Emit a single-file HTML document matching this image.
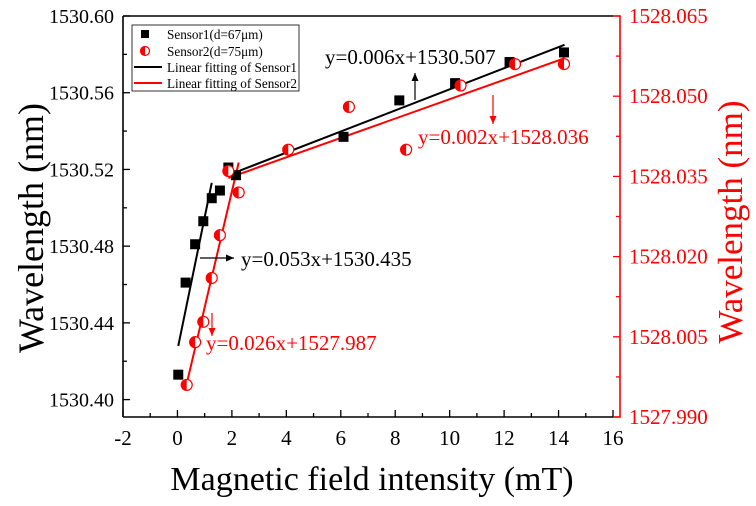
<!DOCTYPE html>
<html><head><meta charset="utf-8"><style>
html,body{margin:0;padding:0;background:#fff;}
svg{display:block;font-family:"Liberation Serif",serif;}
</style></head><body>
<svg id="chart" width="756" height="506" viewBox="0 0 756 506"></svg>
<script>
const xTicks=[-2,0,2,4,6,8,10,12,14,16];
const yLeftTicks=[1530.40,1530.44,1530.48,1530.52,1530.56,1530.60];
const yRightTicks=[1527.990,1528.005,1528.020,1528.035,1528.050,1528.065];
const s1x=[0.03,0.3,0.65,0.95,1.26,1.56,1.87,2.15,6.1,8.15,10.2,12.2,14.2];
const s1y=[1530.413,1530.461,1530.481,1530.493,1530.505,1530.509,1530.521,1530.517,1530.537,1530.556,1530.565,1530.576,1530.581];
const s2x=[0.34,0.65,0.95,1.26,1.56,1.87,2.25,4.07,6.3,8.4,10.4,12.4,14.2];
const s2y=[1527.996,1528.004,1528.0078,1528.016,1528.024,1528.036,1528.032,1528.040,1528.048,1528.040,1528.052,1528.056,1528.056];
const fit1aX=[0.03,1.26], fit1aY=[1530.428,1530.513];
const fit1bX=[2.04,14.22], fit1bY=[1530.518,1530.585];
const fit2aX=[0.33,2.25], fit2aY=[1527.996,1528.0376];
const fit2bX=[1.87,14.22], fit2bY=[1528.0347,1528.0571];

const L=123,R=613,RA=620,T=16,B=417;
const X=v=>L+(v+2)/18*(R-L);
const YL=v=>T+(1530.60-v)/0.20*(399.6-T);
const YR=v=>T+(1528.065-v)/0.075*(B-T);
const svg=document.getElementById('chart');
const NS='http://www.w3.org/2000/svg';
function mk(tag,attrs,parent){const e=document.createElementNS(NS,tag);for(const k in attrs)e.setAttribute(k,attrs[k]);(parent||svg).appendChild(e);return e;}
function txt(s,attrs){const e=mk('text',attrs);e.textContent=s;return e;}

let e;
e=mk('line',{x1:L,y1:T,x2:R,y2:T,stroke:'#000','stroke-width':1.6});


e=mk('line',{x1:L,y1:T,x2:L,y2:B,stroke:'#000','stroke-width':1.6});


e=mk('line',{x1:L,y1:B,x2:R,y2:B,stroke:'#000','stroke-width':1.6});


e=mk('polyline',{points:`${R},${T} ${RA},${T} ${RA},${B} ${R},${B}`,fill:'none',stroke:'#f00','stroke-width':1.6});



xTicks.forEach((v,i)=>{
  const x=X(v);
  e=mk('line',{x1:x,y1:B,x2:x,y2:B-7,stroke:'#000','stroke-width':1.3});
  
  
  if(i<xTicks.length-1){const xm=X(v+1);
    e=mk('line',{x1:xm,y1:B,x2:xm,y2:B-4,stroke:'#000','stroke-width':1.3});
    
    }
  e=txt(String(v),{x:x,y:445,'font-size':21,'text-anchor':'middle'});
  
  
});
yLeftTicks.forEach((v,i)=>{
  const y=YL(v);
  e=mk('line',{x1:L,y1:y,x2:L+7,y2:y,stroke:'#000','stroke-width':1.3});
  
  
  const ym=YL(v+0.02);
  e=mk('line',{x1:L,y1:ym,x2:L+4,y2:ym,stroke:'#000','stroke-width':1.3});
  
  
  e=txt(v.toFixed(2),{x:114,y:y+7,'font-size':20,'text-anchor':'end'});
  
  
});
yRightTicks.forEach((v,i)=>{
  const y=YR(v);
  e=mk('line',{x1:RA,y1:y,x2:RA-7,y2:y,stroke:'#f00','stroke-width':1.3});
  
  
  if(i<yRightTicks.length-1){const ym=YR(v+0.0075);
    e=mk('line',{x1:RA,y1:ym,x2:RA-4,y2:ym,stroke:'#f00','stroke-width':1.3});
    
    }
  e=txt(v.toFixed(3),{x:629,y:y+7,'font-size':21,fill:'#f00'});
  
  
});

function fit(xs,ys,Y,col,name){
  e=mk('line',{x1:X(xs[0]),y1:Y(ys[0]),x2:X(xs[1]),y2:Y(ys[1]),stroke:col,'stroke-width':2});
  
  
}
fit(fit1aX,fit1aY,YL,'#000','fit-line-sensor1-low');
fit(fit1bX,fit1bY,YL,'#000','fit-line-sensor1-high');
fit(fit2aX,fit2aY,YR,'#f00','fit-line-sensor2-low');
fit(fit2bX,fit2bY,YR,'#f00','fit-line-sensor2-high');

function halfCircle(cx,cy,r,parent){
  const g=mk('g',{},parent);
  mk('circle',{cx:cx,cy:cy,r:r,fill:'#fff',stroke:'#f00','stroke-width':1.2},g);
  mk('path',{d:`M${cx},${cy-r} A${r},${r} 0 0 0 ${cx},${cy+r} Z`,fill:'#f00'},g);
  return g;
}
s1x.forEach((v,i)=>{
  e=mk('rect',{x:X(v)-5,y:YL(s1y[i])-5,width:10,height:10,fill:'#000'});
  
  
});
s2x.forEach((v,i)=>{
  e=halfCircle(X(v),YR(s2y[i]),5.5);
  
  
});

function arrow(x1,y1,x2,y2,col,name){
  const g=mk('g',{});
  
  
  mk('line',{x1:x1,y1:y1,x2:x2,y2:y2,stroke:col,'stroke-width':1.2},g);
  const a=Math.atan2(y2-y1,x2-x1),l=8,w=3.5;
  const p=[[x2,y2],[x2-l*Math.cos(a)+w*Math.sin(a),y2-l*Math.sin(a)-w*Math.cos(a)],[x2-l*Math.cos(a)-w*Math.sin(a),y2-l*Math.sin(a)+w*Math.cos(a)]];
  mk('polygon',{points:p.map(q=>q.join(',')).join(' '),fill:col},g);
}
e=txt('y=0.006x+1530.507',{x:325,y:64,'font-size':21});


arrow(415,100,415,73,'#000','sensor1-high-arrow');
e=txt('y=0.002x+1528.036',{x:418,y:144,'font-size':21,fill:'#f00'});


arrow(493,95,493,124,'#f00','sensor2-high-arrow');
e=txt('y=0.053x+1530.435',{x:241,y:266,'font-size':21});


arrow(200,258,234,258,'#000','sensor1-low-arrow');
e=txt('y=0.026x+1527.987',{x:206,y:350,'font-size':21,fill:'#f00'});


arrow(212,313,212,336,'#f00','sensor2-low-arrow');

const lg=mk('g',{});


mk('rect',{x:132,y:25,width:167,height:66,fill:'#fff',stroke:'#000','stroke-width':0.8},lg);
const labels=['Sensor1(d=67μm)','Sensor2(d=75μm)','Linear fitting of Sensor1','Linear fitting of Sensor2'];
const ly=[34,51,67,83];
mk('rect',{x:141,y:30,width:8,height:8,fill:'#000'},lg);
halfCircle(145,51,4.5,lg);
mk('line',{x1:134,y1:67,x2:162,y2:67,stroke:'#000','stroke-width':2},lg);
mk('line',{x1:134,y1:83,x2:162,y2:83,stroke:'#f00','stroke-width':2},lg);
labels.forEach((s,i)=>{
  const t=mk('text',{x:167,y:ly[i]+5,'font-size':13.2},lg);
  t.textContent=s;
  
  
});

e=txt('Wavelength (nm)',{x:0,y:0,'font-size':36,'text-anchor':'middle',transform:'translate(43,228) rotate(-90)'});


e=txt('Wavelength (nm)',{x:0,y:0,'font-size':35,'text-anchor':'middle',fill:'#f00',transform:'translate(742,222) rotate(-90)'});


e=txt('Magnetic field intensity (mT)',{x:372,y:490,'font-size':34,'text-anchor':'middle'});


</script>
</body></html>
